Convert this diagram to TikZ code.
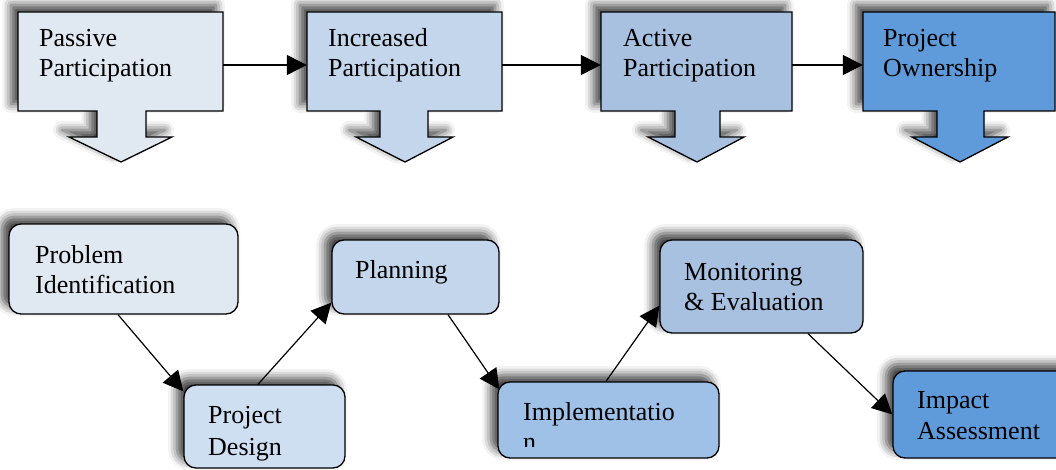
\documentclass[tikz,border=0pt]{standalone}
\usepackage{fontspec}
\setmainfont{Liberation Serif}
\usetikzlibrary{shadows.blur,arrows.meta,calc}
\definecolor{cA}{HTML}{E0E8F2}
\definecolor{cB}{HTML}{C4D6EB}
\definecolor{cC}{HTML}{A8C1E0}
\definecolor{cD}{HTML}{5F9BDA}
\definecolor{cPD}{HTML}{CEDFF1}
\definecolor{cIM}{HTML}{9FC0E7}
\tikzset{
  sh/.style={blur shadow={shadow xshift=-7pt, shadow yshift=7pt, shadow blur radius=9pt, shadow opacity=75}},
  topshape/.style={draw=black, line width=1.3pt, sh},
  rbox/.style={draw=black, line width=1.3pt, rounded corners=12pt, sh, inner sep=0pt},
  anchorbox/.style={draw=none, inner sep=0pt},
  lbl/.style={anchor=base west, inner sep=0pt, font=\fontsize{26}{30}\selectfont, align=left},
  conn/.style={line width=1.2pt, draw=black, -{Triangle[length=20pt,width=20pt,fill=black]}}
}
\newcommand{\tshape}[8]{%
  \path[topshape, fill=#8] (#1,12) -- (#2,12) -- (#2,111) -- (#4,111) -- (#4,137) -- (#6,137)
    -- (#7,162) -- (#5,137) -- (#3,137) -- (#3,111) -- (#1,111) -- cycle;}
\begin{document}
\begin{tikzpicture}[x=1pt,y=-1pt]
\useasboundingbox (0,0) rectangle (1056,470);
\clip (0,0) rectangle (1056,470);
% top row
\tshape{18}{223}{97}{146}{69}{172}{121}{cA}
\tshape{307}{502}{380}{428}{356}{453}{405}{cB}
\tshape{601}{792}{675}{720}{648}{744}{697}{cC}
\tshape{863}{1055}{937}{984}{912}{1008}{960}{cD}
\node[anchorbox, minimum width=205pt, minimum height=99pt] (t1) at (120.5,61.5) {};
\node[anchorbox, minimum width=195pt, minimum height=99pt] (t2) at (404.5,61.5) {};
\node[anchorbox, minimum width=191pt, minimum height=99pt] (t3) at (696.5,61.5) {};
\node[anchorbox, minimum width=192pt, minimum height=99pt] (t4) at (959,61.5) {};
\node[lbl] (t1a) at (39,47) {Passive};
\node[lbl] (t1b) at (39,77) {Participation};
\node[lbl] (t2a) at (328,47) {Increased};
\node[lbl] (t2b) at (328,77) {Participation};
\node[lbl] (t3a) at (623,47) {Active};
\node[lbl] (t3b) at (623,77) {Participation};
\node[lbl] (t4a) at (883,47) {Project};
\node[lbl] (t4b) at (883,77) {Ownership};
\draw[conn] ([yshift=-3.5pt]t1.east) -- ([yshift=-3.5pt]t2.west);
\draw[conn] ([yshift=-3.5pt]t2.east) -- ([yshift=-3.5pt]t3.west);
\draw[conn] ([yshift=-3.5pt]t3.east) -- ([yshift=-3.5pt]t4.west);
% bottom row
\node[rbox, fill=cA, minimum width=229pt, minimum height=90pt] (pi) at (123.5,269) {};
\node[rbox, fill=cPD, minimum width=161pt, minimum height=83pt] (pd) at (264.5,426.5) {};
\node[rbox, fill=cB, minimum width=167pt, minimum height=74pt] (pl) at (415.5,277) {};
\node[rbox, fill=cIM, minimum width=221pt, minimum height=76pt] (im) at (608.5,420) {};
\node[rbox, fill=cC, minimum width=203pt, minimum height=93pt] (mo) at (761.5,286.5) {};
\node[rbox, fill=cD, minimum width=190pt, minimum height=87pt] (ia) at (988,414.5) {};
\node[lbl] (pia) at (35,263) {Problem};
\node[lbl] (pib) at (35,293) {Identification};
\node[lbl] (pda) at (208,423) {Project};
\node[lbl] (pdb) at (208,455) {Design};
\node[lbl] (pla) at (355,278) {Planning};
\node[lbl] (ima) at (523,420) {Implementatio};
\begin{scope}
  \clip (498,382) rectangle (719,446);
  \node[lbl] (imb) at (523,450) {n};
\end{scope}
\node[lbl] (moa) at (684,280) {Monitoring};
\node[lbl] (mob) at (684,310) {\& Evaluation};
\node[lbl] (iaa) at (917,408) {Impact};
\node[lbl] (iab) at (917,439) {Assessment};
\draw[conn] ([xshift=-5.5pt]pi.south) -- ([yshift=-7pt]pd.north west);
\draw[conn] ([xshift=-6.5pt]pd.north) -- ([yshift=12pt]pl.south west);
\draw[conn] ([xshift=32.5pt]pl.south) -- ([xshift=2pt,yshift=-8pt]im.north west);
\draw[conn] ([xshift=-2.5pt]im.north) -- ([yshift=28pt]mo.south west);
\draw[conn] ([xshift=46.5pt]mo.south) -- (ia.west);
\end{tikzpicture}
\end{document}
